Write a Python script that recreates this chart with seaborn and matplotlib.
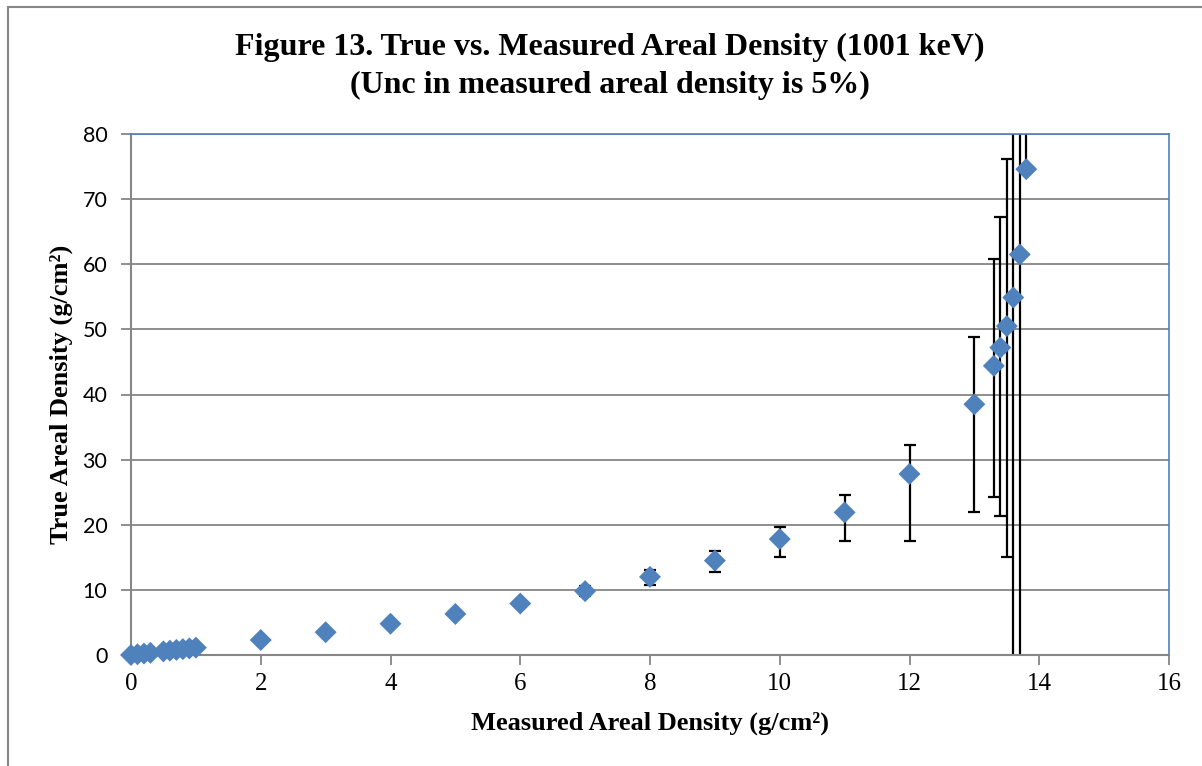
import matplotlib
matplotlib.use("Agg")
import matplotlib.pyplot as plt
import seaborn as sns
import pandas as pd
from matplotlib.patches import Rectangle

# ---- data ----
measured = [0, 0.1, 0.2, 0.3, 0.5, 0.6, 0.7, 0.8, 0.9, 1.0,
            2, 3, 4, 5, 6, 7, 8, 9, 10, 11, 12,
            13, 13.3, 13.4, 13.5, 13.6, 13.7, 13.8]
true_density = [0, 0.11, 0.22, 0.33, 0.56, 0.67, 0.78, 0.9, 1.01, 1.13,
                2.3, 3.5, 4.8, 6.3, 7.9, 9.8, 12.0, 14.5, 17.8, 21.9, 27.8,
                38.5, 44.4, 47.2, 50.5, 54.9, 61.5, 74.6]
err_lower = [0, 0.01, 0.02, 0.03, 0.05, 0.06, 0.07, 0.08, 0.09, 0.1,
             0.12, 0.2, 0.3, 0.4, 0.55, 0.8, 1.2, 1.7, 2.7, 4.4, 10.3,
             16.5, 20.1, 25.9, 35.4, 60, 70, 0]
err_upper = [0, 0.01, 0.02, 0.03, 0.05, 0.06, 0.07, 0.08, 0.09, 0.1,
             0.12, 0.2, 0.3, 0.45, 0.6, 0.8, 1.1, 1.4, 1.8, 2.7, 4.5,
             10.4, 16.4, 20.0, 25.7, 30, 40, 30]
x_ticks = [0, 2, 4, 6, 8, 10, 12, 14, 16]
y_ticks = [0, 10, 20, 30, 40, 50, 60, 70, 80]

title_line1 = "Figure 13. True vs. Measured Areal Density (1001 keV)"
title_line2 = "(Unc in measured areal density is 5%)"
x_label = "Measured Areal Density (g/cm\u00b2)"
y_label = "True Areal Density (g/cm\u00b2)"

df = pd.DataFrame({"measured": measured, "true": true_density})

sns.set_theme(style="white")
plt.rcParams['font.family'] = ['Liberation Serif', 'DejaVu Sans']
plt.rcParams['text.color'] = 'black'
plt.rcParams['axes.labelcolor'] = 'black'
plt.rcParams['xtick.color'] = 'black'
plt.rcParams['ytick.color'] = 'black'

GRAY = "#868686"
BLUE = "#4F81BD"

fig = plt.figure(figsize=(12.02, 7.66), dpi=100)
ax = fig.add_axes([131/1202, 1 - 655/766, (1169 - 131)/1202, (655 - 134)/766])

ax.errorbar(measured, true_density, yerr=[err_lower, err_upper], fmt='none',
            ecolor='black', elinewidth=1.6, capsize=4.5, capthick=1.6, zorder=2)
sns.scatterplot(data=df, x="measured", y="true", marker='D', s=125,
                color=BLUE, edgecolor='none', linewidth=0, ax=ax, zorder=3,
                legend=False)
for coll in ax.collections:
    if coll.get_offsets() is not None and len(coll.get_offsets()) == len(measured):
        coll.set_clip_on(False)

ax.set_xlim(0, 16)
ax.set_ylim(0, 80)
ax.set_xticks(x_ticks)
ax.set_yticks(y_ticks)
ax.set_xticklabels([str(t) for t in x_ticks], family='Liberation Serif', fontsize=18, color='black')
ax.set_yticklabels([str(t) for t in y_ticks], family='Lato', fontsize=15.5, color='black')

ax.grid(axis='y', color=GRAY, linewidth=1.3, zorder=0)
ax.grid(axis='x', visible=False)
ax.set_axisbelow(True)

for side in ['left', 'bottom']:
    ax.spines[side].set_color(GRAY)
    ax.spines[side].set_linewidth(1.5)
for side in ['top', 'right']:
    ax.spines[side].set_color(BLUE)
    ax.spines[side].set_linewidth(1.2)

ax.tick_params(axis='both', which='major', direction='out', color=GRAY,
               width=1.3, labelcolor='black')
ax.tick_params(axis='x', length=7, pad=6, bottom=True)
ax.tick_params(axis='y', length=7, pad=10, left=True)

ax.set_xlabel(x_label, family='Liberation Serif', fontweight='bold', fontsize=19,
              labelpad=12, color='black')
ax.set_ylabel(y_label, family='Liberation Serif', fontweight='bold', fontsize=19,
              labelpad=7, color='black')

fig.text(610/1202, 1 - 47/766, title_line1, ha='center', va='center',
         family='Liberation Serif', fontweight='bold', fontsize=23, color='black')
fig.text(610/1202, 1 - 85/766, title_line2, ha='center', va='center',
         family='Liberation Serif', fontweight='bold', fontsize=23, color='black')

# chart outer border (only left and top visible)
fig.patches.append(Rectangle((8/1202, -0.1), 1.2, 1.1 - 7/766, transform=fig.transFigure,
                             fill=False, edgecolor=GRAY, linewidth=1.5))

fig.savefig("out.png", dpi=100)
